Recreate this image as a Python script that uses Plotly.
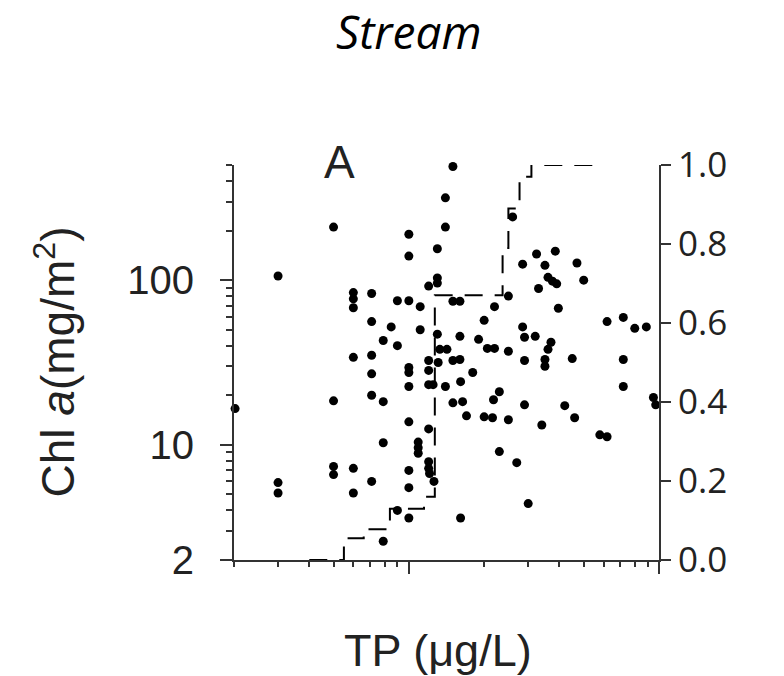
import plotly.graph_objects as go

# Scatter data: TP (ug/L) vs Chl a (mg/m2)
tp = [2.02, 3.0, 3.0, 3.0, 5.0, 5.0, 5.0, 5.0, 6.0, 6.0, 6.0, 6.0, 6.0, 6.0,
      7.1, 7.1, 7.1, 7.1, 7.1, 7.1, 7.9, 7.9, 7.9, 7.9, 8.5, 9.0, 9.0, 9.0,
      10, 10, 10, 10, 10, 10, 10, 10, 10, 10, 11.1, 11.1, 10.9, 10.9, 10.9,
      12, 12, 12, 12, 12, 12.5, 12, 12, 12.1, 12.6, 13, 13, 13, 13, 13.3, 14.2,
      13.1, 14, 14, 14, 15, 15, 16, 15, 16, 15, 16.4, 16, 16.1, 16.1, 17, 18,
      19, 20, 20, 21.6, 20.6, 22, 21.8, 23, 22, 23, 25, 25, 25, 26, 27, 28.5,
      28.5, 29, 32, 29, 29, 30, 32.4, 33, 34, 35, 35, 35, 36, 37.5, 39, 36, 37,
      38.5, 39.6, 42, 45, 46, 47, 50, 58, 62, 62, 72, 72, 72, 80, 89, 95, 97]
chla = [16.6, 106, 5.9, 5.1, 210, 18.5, 7.4, 6.6, 84, 77, 68, 34, 7.2, 5.1,
        83, 56, 35, 27, 20, 6.0, 43, 18.3, 10.3, 2.6, 52, 75, 40, 4.0,
        190, 140, 75, 29.5, 27.5, 22.6, 13.8, 7.0, 5.5, 3.6, 69, 50, 10.4, 9.6, 8.9,
        12.5, 92, 32.5, 28.3, 23.2, 23.2, 7.9, 7.2, 6.7, 6.0, 155, 103, 96, 47, 38, 38,
        31.6, 316, 210, 22.6, 490, 74.5, 74.5, 32.5, 33, 18, 18.3, 45.6, 24.2, 3.6, 15, 27.5,
        43.7, 57, 14.8, 14.6, 38.5, 38.5, 18.8, 21, 69, 9.1, 80, 37, 14.2, 242, 7.8, 125,
        52, 45, 45.6, 32.5, 17.5, 4.4, 144, 89, 13.2, 123, 33, 30, 104, 98.6, 95, 38, 42,
        150, 67.5, 17.3, 33.4, 14.6, 127, 100, 11.5, 11.2, 56, 59.4, 33, 22.6, 51, 52, 19.4, 17.5]

# Cumulative step curve (right axis)
step_tp = [4.0, 5.5, 6.6, 8.4, 11.5, 12.7, 23.7, 25, 27.7, 30.9, 56]
step_p = [0.0, 0.055, 0.078, 0.13, 0.16, 0.67, 0.79, 0.89, 0.97, 1.0, 1.0]

# Ticks
y_major = [2, 10, 100]
y_major_text = ["2", "10", "100"]
y_minor = [3, 4, 5, 6, 7, 8, 9, 20, 30, 40, 50, 60, 70, 80, 90, 200, 300, 400, 500]
x_major = [10, 100]
x_minor = [2, 3, 4, 5, 6, 7, 8, 9, 20, 30, 40, 50, 60, 70, 80, 90]
y2_ticks = [0, 0.2, 0.4, 0.6, 0.8, 1.0]
y2_text = ["0.0", "0.2", "0.4", "0.6", "0.8", "1.0"]

AX = "#333333"
PW, PH = 425, 395  # plot area size in px

fig = go.Figure()
fig.add_trace(go.Scatter(x=tp, y=chla, mode="markers",
                         marker=dict(color="black", size=9),
                         cliponaxis=False, showlegend=False))
fig.add_trace(go.Scatter(x=step_tp, y=step_p, mode="lines", yaxis="y2",
                         line=dict(color="black", width=2, dash="18px,12px", shape="hv"),
                         showlegend=False))

fig.update_layout(
    width=784, height=676,
    margin=dict(l=226, r=133, t=157, b=124, autoexpand=False),
    paper_bgcolor="white", plot_bgcolor="white",
    xaxis=dict(type="log", range=[0.30103, 2.0], showgrid=False, zeroline=False,
               showline=True, linecolor=AX, linewidth=2,
               tickmode="array", tickvals=x_major, showticklabels=False,
               ticks="outside", ticklen=12, tickwidth=2, tickcolor=AX,
               minor=dict(tickmode="array", tickvals=x_minor, ticks="outside",
                          ticklen=5, tickwidth=1.5, tickcolor=AX, showgrid=False)),
    yaxis=dict(type="log", range=[0.30103, 2.69897], showgrid=False, zeroline=False,
               showline=True, linecolor=AX, linewidth=2,
               tickmode="array", tickvals=y_major, ticktext=y_major_text,
               ticks="outside", ticklen=12, tickwidth=2, tickcolor=AX,
               ticklabelstandoff=18,
               tickfont=dict(family="Liberation Sans", size=40, color="#222222"),
               minor=dict(tickmode="array", tickvals=y_minor, ticks="outside",
                          ticklen=6, tickwidth=1.5, tickcolor=AX, showgrid=False)),
    yaxis2=dict(overlaying="y", side="right", range=[0, 1], showgrid=False,
                zeroline=False, showline=True, linecolor=AX, linewidth=2,
                tickmode="array", tickvals=y2_ticks, ticktext=y2_text,
                ticks="outside", ticklen=10, tickwidth=2, tickcolor=AX,
                ticklabelstandoff=0,
                tickfont=dict(family="Open Sans", size=35, color="#222222")),
    annotations=[
        dict(text="<i>Stream</i>", xref="paper", yref="paper",
             x=(409 - 234) / PW, y=1 + (165 - 31) / PH,
             xanchor="center", yanchor="middle", showarrow=False,
             font=dict(family="Open Sans", size=46, color="black")),
        dict(text="A", xref="paper", yref="paper",
             x=(339 - 234) / PW, y=(560 - 162) / PH,
             xanchor="center", yanchor="middle", showarrow=False,
             font=dict(family="Liberation Sans", size=46, color="#222222")),
        dict(text="TP (\u03bcg/L)", xref="paper", yref="paper",
             x=(438 - 234) / PW, y=(560 - 650) / PH,
             xanchor="center", yanchor="middle", showarrow=False,
             font=dict(family="Liberation Sans", size=45, color="#222222")),
        dict(text="Chl <i>a</i>(mg/m<sup>2</sup>)", xref="paper", yref="paper",
             x=(54 - 234) / PW, y=0.5, textangle=-90,
             xanchor="center", yanchor="middle", showarrow=False,
             font=dict(family="Liberation Sans", size=46, color="#222222")),
    ],
)

fig.write_html("out.html")
